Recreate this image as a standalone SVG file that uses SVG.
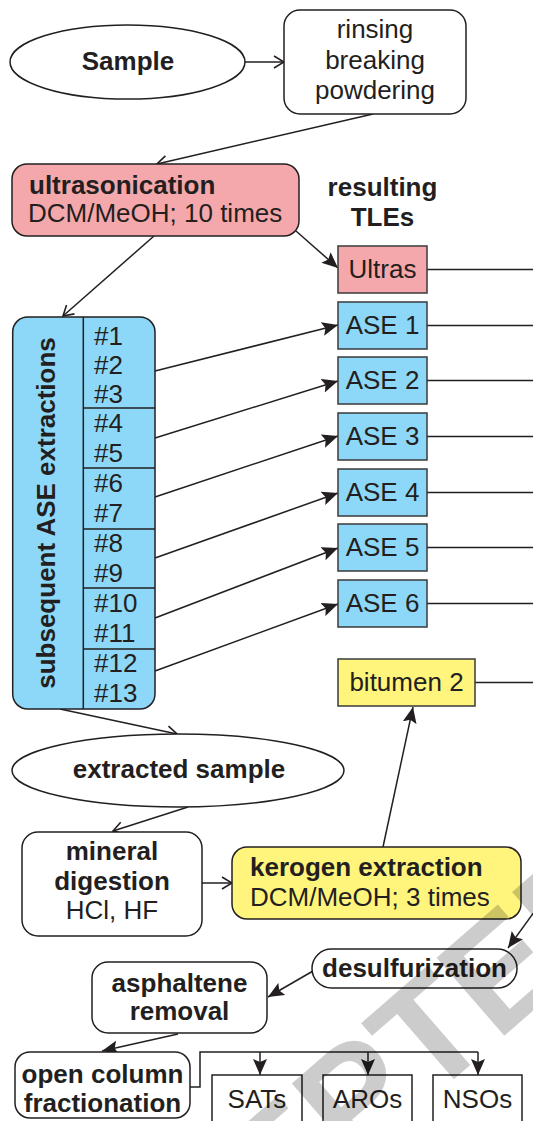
<svg xmlns="http://www.w3.org/2000/svg" width="533" height="1121" viewBox="0 0 533 1121">
<style>
.n{stroke:#231f20;stroke-width:1.5}
.w{fill:#ffffff}
.pk{fill:#f5a8ab}
.bl{fill:#8dd8f8}
.yl{fill:#fff47c}
.sq{stroke:#3a3a3a;stroke-width:1.5}
text{font-family:"Liberation Sans",Arial,sans-serif;font-size:26px;fill:#231f20}
.b{font-weight:bold}
.m{text-anchor:middle}
.c{fill:none;stroke:#231f20;stroke-width:1.5}
</style>
<defs>
<marker id="op" viewBox="0 0 12 14" refX="11" refY="7" markerWidth="12" markerHeight="14" orient="auto" markerUnits="userSpaceOnUse"><path d="M1,1 L11,7 L1,13" fill="none" stroke="#231f20" stroke-width="1.6"/></marker>
<marker id="fa" viewBox="0 0 16 14" refX="16" refY="7" markerWidth="16" markerHeight="14" orient="auto" markerUnits="userSpaceOnUse"><path d="M0,0 L16,7 L0,14 L3,7 Z" fill="#231f20"/></marker>
</defs>
<rect width="533" height="1121" fill="#ffffff"/>

<g id="connectors" class="c">
<path d="M245,62 L284,62" marker-end="url(#op)"/>
<path d="M373,114 L157,164" marker-end="url(#op)"/>
<path d="M154,236 L63,316" marker-end="url(#op)"/>
<path d="M296,231 L338,268" marker-end="url(#fa)"/>
<path d="M155,371 L338,325" marker-end="url(#fa)"/>
<path d="M155,438 L338,381" marker-end="url(#fa)"/>
<path d="M155,497 L338,436" marker-end="url(#fa)"/>
<path d="M155,558 L338,493" marker-end="url(#fa)"/>
<path d="M155,618 L338,548" marker-end="url(#fa)"/>
<path d="M155,671 L338,604" marker-end="url(#fa)"/>
<path d="M427,269.5 H533"/>
<path d="M427,325.5 H533"/>
<path d="M427,380.5 H533"/>
<path d="M427,436.5 H533"/>
<path d="M427,492.5 H533"/>
<path d="M427,547.5 H533"/>
<path d="M427,603.5 H533"/>
<path d="M475,682.5 H533"/>
<path d="M60,709 L177,734" marker-end="url(#op)"/>
<path d="M188,807 L113,831" marker-end="url(#op)"/>
<path d="M202,883 L232,883" marker-end="url(#op)"/>
<path d="M383,847 L413,707" marker-end="url(#fa)"/>
<path d="M545,897 L508,948" marker-end="url(#fa)"/>
<path d="M313,971 L268,997" marker-end="url(#fa)"/>
<path d="M178,1034 L102,1051" marker-end="url(#fa)"/>
<path d="M190,1087 H200 V1052 H478"/>
<path d="M260,1052 V1075" marker-end="url(#fa)"/>
<path d="M368,1052 V1075" marker-end="url(#fa)"/>
<path d="M478,1052 V1075" marker-end="url(#fa)"/>
</g>

<g id="sample"><ellipse class="n w" cx="127.5" cy="62" rx="117.5" ry="37"/><text class="b m" x="128" y="70">Sample</text></g>
<g id="rinsing"><rect class="n w" x="284" y="10" width="182" height="104" rx="16"/><text class="m" x="375" y="38">rinsing</text><text class="m" x="375" y="69">breaking</text><text class="m" x="375" y="99">powdering</text></g>
<g id="ultrasonication"><rect class="n pk" x="12" y="164" width="287" height="72" rx="15"/><text class="b" x="29" y="194">ultrasonication</text><text x="28" y="222">DCM/MeOH; 10 times</text></g>
<g id="tles"><text class="b m" x="382.5" y="196">resulting</text><text class="b m" x="382.5" y="226">TLEs</text></g>
<g id="ultras"><rect class="sq pk" x="338" y="246" width="89" height="47"/><text class="m" x="382.5" y="278">Ultras</text></g>
<g id="ase1"><rect class="sq bl" x="338" y="302" width="89" height="47"/><text class="m" x="382.5" y="334">ASE 1</text></g>
<g id="ase2"><rect class="sq bl" x="338" y="357" width="89" height="47"/><text class="m" x="382.5" y="389">ASE 2</text></g>
<g id="ase3"><rect class="sq bl" x="338" y="413" width="89" height="47"/><text class="m" x="382.5" y="445">ASE 3</text></g>
<g id="ase4"><rect class="sq bl" x="338" y="469" width="89" height="47"/><text class="m" x="382.5" y="501">ASE 4</text></g>
<g id="ase5"><rect class="sq bl" x="338" y="524" width="89" height="47"/><text class="m" x="382.5" y="556">ASE 5</text></g>
<g id="ase6"><rect class="sq bl" x="338" y="580" width="89" height="47"/><text class="m" x="382.5" y="612">ASE 6</text></g>
<g id="subsequent">
<rect class="n bl" x="12.7" y="317" width="142.3" height="392" rx="15"/>
<path class="c" d="M83.3,317 V709 M83.3,408 H155 M83.3,468 H155 M83.3,529 H155 M83.3,588 H155 M83.3,649 H155"/>
<text class="b m" transform="translate(55,513) rotate(-90)">subsequent ASE extractions</text>
<text x="94" y="345">#1</text><text x="94" y="374">#2</text><text x="94" y="403">#3</text>
<text x="94" y="432">#4</text><text x="94" y="462">#5</text>
<text x="94" y="492">#6</text><text x="94" y="522">#7</text>
<text x="94" y="552">#8</text><text x="94" y="582">#9</text>
<text x="94" y="612">#10</text><text x="94" y="642">#11</text>
<text x="94" y="672">#12</text><text x="94" y="702">#13</text>
</g>
<g id="bitumen2"><rect class="sq yl" x="338" y="659" width="137" height="47"/><text class="m" x="406.5" y="691">bitumen 2</text></g>
<g id="extracted"><ellipse class="n w" cx="178" cy="770.5" rx="166" ry="36.5"/><text class="b m" x="179" y="778">extracted sample</text></g>
<g id="mineral"><rect class="n w" x="22" y="832" width="180" height="104" rx="16"/><text class="b m" x="112" y="860">mineral</text><text class="b m" x="112" y="890">digestion</text><text class="m" x="112" y="919">HCl, HF</text></g>
<g id="kerogen"><rect class="n yl" x="232" y="847" width="289" height="72" rx="15"/><text class="b" x="250" y="876">kerogen extraction</text><text x="250" y="906">DCM/MeOH; 3 times</text></g>
<g id="desulfurization"><rect class="n w" x="312" y="949" width="205" height="39" rx="19.5"/><text class="b m" x="414.5" y="977">desulfurization</text></g>
<g id="asphaltene"><rect class="n w" x="92" y="962" width="175" height="71" rx="16"/><text class="b m" x="179.5" y="992">asphaltene</text><text class="b m" x="179.5" y="1020">removal</text></g>
<g id="opencolumn"><rect class="n w" x="15" y="1052" width="175" height="66" rx="15"/><text class="b m" x="102.5" y="1083">open column</text><text class="b m" x="102.5" y="1112">fractionation</text></g>
<g id="sats"><rect class="n w" x="212" y="1075" width="90" height="60"/><text class="m" x="257" y="1108">SATs</text></g>
<g id="aros"><rect class="n w" x="323" y="1075" width="89" height="60"/><text class="m" x="367.5" y="1108">AROs</text></g>
<g id="nsos"><rect class="n w" x="433" y="1075" width="89" height="60"/><text class="m" x="477.5" y="1108">NSOs</text></g>

<text transform="translate(352,1168) rotate(-41)" x="-425" y="0" style="font-size:150px;font-weight:bold;fill:#000000;fill-opacity:0.2">ACCEPTED</text>
</svg>
